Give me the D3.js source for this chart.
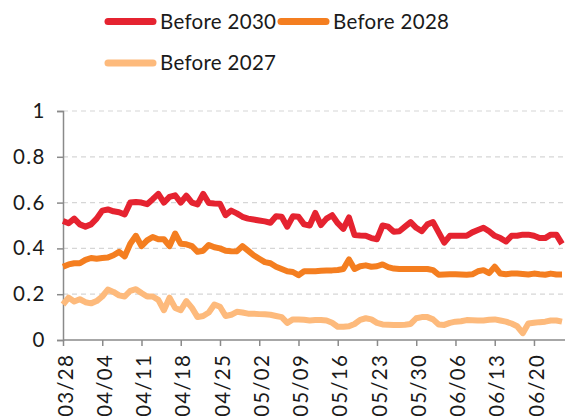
<!DOCTYPE html>
<html lang="en">

<head>
    <meta charset="UTF-8">
    <script src="https://d3js.org/d3.v7.min.js"></script>
    <style>
        body { margin: 0; background: #fff; }
        text { font-family: Lato, "DejaVu Sans", sans-serif; fill: #1a1a1a; }
    </style>
    <script>

    // one point per day, 03/28 .. 06/25
    const firstDay = new Date(2024, 2, 28);
    const dayCount = 90;

    const xTickLabels = ["03/28", "04/04", "04/11", "04/18", "04/25", "05/02", "05/09",
        "05/16", "05/23", "05/30", "06/06", "06/13", "06/20"];
    const yTicks = [0, 0.2, 0.4, 0.6, 0.8, 1];

    const seriesNames = ["Before 2030", "Before 2028", "Before 2027"];
    const seriesColors = ["#e52330", "#f47e20", "#fdba7c"];

    const before2030 = [0.52, 0.51, 0.53, 0.505, 0.495, 0.505, 0.53, 0.565, 0.57, 0.562,
        0.558, 0.548, 0.60, 0.603, 0.60, 0.593, 0.615, 0.638, 0.60, 0.625,
        0.632, 0.60, 0.63, 0.60, 0.592, 0.638, 0.598, 0.596, 0.595, 0.545,
        0.565, 0.553, 0.538, 0.53, 0.526, 0.522, 0.518, 0.512, 0.54, 0.538,
        0.495, 0.54, 0.538, 0.505, 0.50, 0.555, 0.502, 0.53, 0.545, 0.51,
        0.485, 0.535, 0.458, 0.456, 0.455, 0.445, 0.44, 0.50, 0.495, 0.473,
        0.475, 0.495, 0.515, 0.49, 0.475, 0.505, 0.515, 0.47, 0.425, 0.455,
        0.455, 0.455, 0.455, 0.47, 0.48, 0.49, 0.475, 0.455, 0.445, 0.43,
        0.455, 0.455, 0.46, 0.46, 0.455, 0.445, 0.445, 0.46, 0.46, 0.42];

    const before2028 = [0.32, 0.33, 0.335, 0.335, 0.35, 0.358, 0.355, 0.358, 0.36, 0.37,
        0.385, 0.365, 0.42, 0.455, 0.41, 0.435, 0.45, 0.44, 0.44, 0.41,
        0.465, 0.42, 0.418, 0.41, 0.385, 0.39, 0.415, 0.405, 0.40, 0.39,
        0.388, 0.387, 0.41, 0.39, 0.37, 0.355, 0.34, 0.335, 0.32, 0.31,
        0.30, 0.297, 0.283, 0.30, 0.30, 0.30, 0.302, 0.303, 0.304, 0.306,
        0.31, 0.352, 0.31, 0.322, 0.326, 0.32, 0.322, 0.33, 0.318, 0.312,
        0.31, 0.31, 0.31, 0.31, 0.31, 0.31, 0.305, 0.285, 0.286, 0.287,
        0.287, 0.286, 0.285, 0.287, 0.30, 0.305, 0.292, 0.32, 0.29, 0.287,
        0.29, 0.29, 0.288, 0.286, 0.29, 0.287, 0.285, 0.29, 0.286, 0.286];

    const before2027 = [0.155, 0.185, 0.168, 0.178, 0.165, 0.16, 0.17, 0.19, 0.22, 0.21,
        0.195, 0.19, 0.215, 0.222, 0.205, 0.19, 0.19, 0.175, 0.13, 0.185,
        0.14, 0.13, 0.17, 0.14, 0.10, 0.105, 0.12, 0.155, 0.145, 0.105,
        0.11, 0.123, 0.12, 0.115, 0.115, 0.113, 0.112, 0.11, 0.105, 0.10,
        0.075, 0.09, 0.09, 0.088, 0.085, 0.087, 0.087, 0.085, 0.075, 0.058,
        0.058, 0.06, 0.07, 0.088, 0.095, 0.09, 0.075, 0.068, 0.067, 0.066,
        0.066, 0.067, 0.07, 0.095, 0.10, 0.10, 0.09, 0.068, 0.066, 0.075,
        0.08, 0.082, 0.087, 0.086, 0.085, 0.085, 0.088, 0.09, 0.085, 0.08,
        0.072, 0.06, 0.03, 0.072, 0.075, 0.078, 0.08, 0.085, 0.085, 0.08];

    function plot() {
        const svg = d3.select("svg");

        const fmt = d3.timeFormat("%m/%d");
        const dates = d3.range(dayCount).map(i => fmt(d3.timeDay.offset(firstDay, i)));

        const x = d3.scalePoint().domain(dates).range([63, 562]);
        const y = d3.scaleLinear().domain([0, 1]).range([340, 111]);

        // dashed grid
        svg.append("g").selectAll("line").data(yTicks.filter(d => d > 0)).enter()
            .append("line")
            .attr("x1", 63).attr("x2", 565)
            .attr("y1", d => y(d)).attr("y2", d => y(d))
            .attr("stroke", "#d6d6d6")
            .attr("stroke-width", 1.2)
            .attr("stroke-dasharray", "5,4");

        // y axis
        const yAx = svg.append("g")
            .attr("transform", "translate(63,0)")
            .call(d3.axisLeft(y).tickValues(yTicks).tickFormat(d3.format("~g")).tickSize(6).tickPadding(11));
        yAx.select(".domain").attr("stroke", "#8a8a8a").attr("stroke-width", 1.5);
        yAx.selectAll(".tick line").attr("stroke", "#8a8a8a").attr("stroke-width", 1.5);
        yAx.selectAll("text").attr("font-size", 20.5).attr("fill", "#1a1a1a")
            .attr("letter-spacing", 1.5);

        // x axis
        const xAx = svg.append("g")
            .attr("transform", "translate(0,340)")
            .call(d3.axisBottom(x).tickValues(xTickLabels).tickSizeInner(6).tickSizeOuter(0));
        xAx.select(".domain").attr("stroke", "#8a8a8a").attr("stroke-width", 1.5)
            .attr("d", "M63,0H565");
        xAx.selectAll(".tick line").attr("stroke", "#8a8a8a").attr("stroke-width", 1.5);
        xAx.selectAll("text")
            .attr("font-size", 20.5)
            .attr("fill", "#1a1a1a")
            .attr("letter-spacing", 1.2)
            .attr("text-anchor", "end")
            .attr("transform", "translate(0,14) rotate(-90)")
            .attr("x", 0).attr("y", 0)
            .attr("dy", "0.45em");

        // lines
        const allSeries = [before2030, before2028, before2027];
        const lnMkr = d3.line()
            .x((d, i) => x(dates[i]))
            .y(d => y(d));

        allSeries.forEach((vals, k) => {
            svg.append("path")
                .attr("fill", "none")
                .attr("stroke", seriesColors[k])
                .attr("stroke-width", 6)
                .attr("stroke-linejoin", "round")
                .attr("d", lnMkr(vals));
        });

        // legend
        const legendPos = [[105, 21.5], [278, 21.5], [105, 63]];
        seriesNames.forEach((name, k) => {
            const g = svg.append("g")
                .attr("transform", "translate(" + legendPos[k][0] + "," + legendPos[k][1] + ")");
            g.append("line")
                .attr("x1", 3).attr("x2", 48)
                .attr("stroke", seriesColors[k])
                .attr("stroke-width", 7)
                .attr("stroke-linecap", "round");
            g.append("text")
                .attr("x", 55)
                .attr("dy", "0.36em")
                .attr("font-size", 20.5)
                .attr("letter-spacing", 0.3)
                .text(name);
        });
    }

    </script>
    <title>Chart</title>
</head>

<body onload="plot()">
    <svg width="565" height="416"></svg>
</body>

</html>
